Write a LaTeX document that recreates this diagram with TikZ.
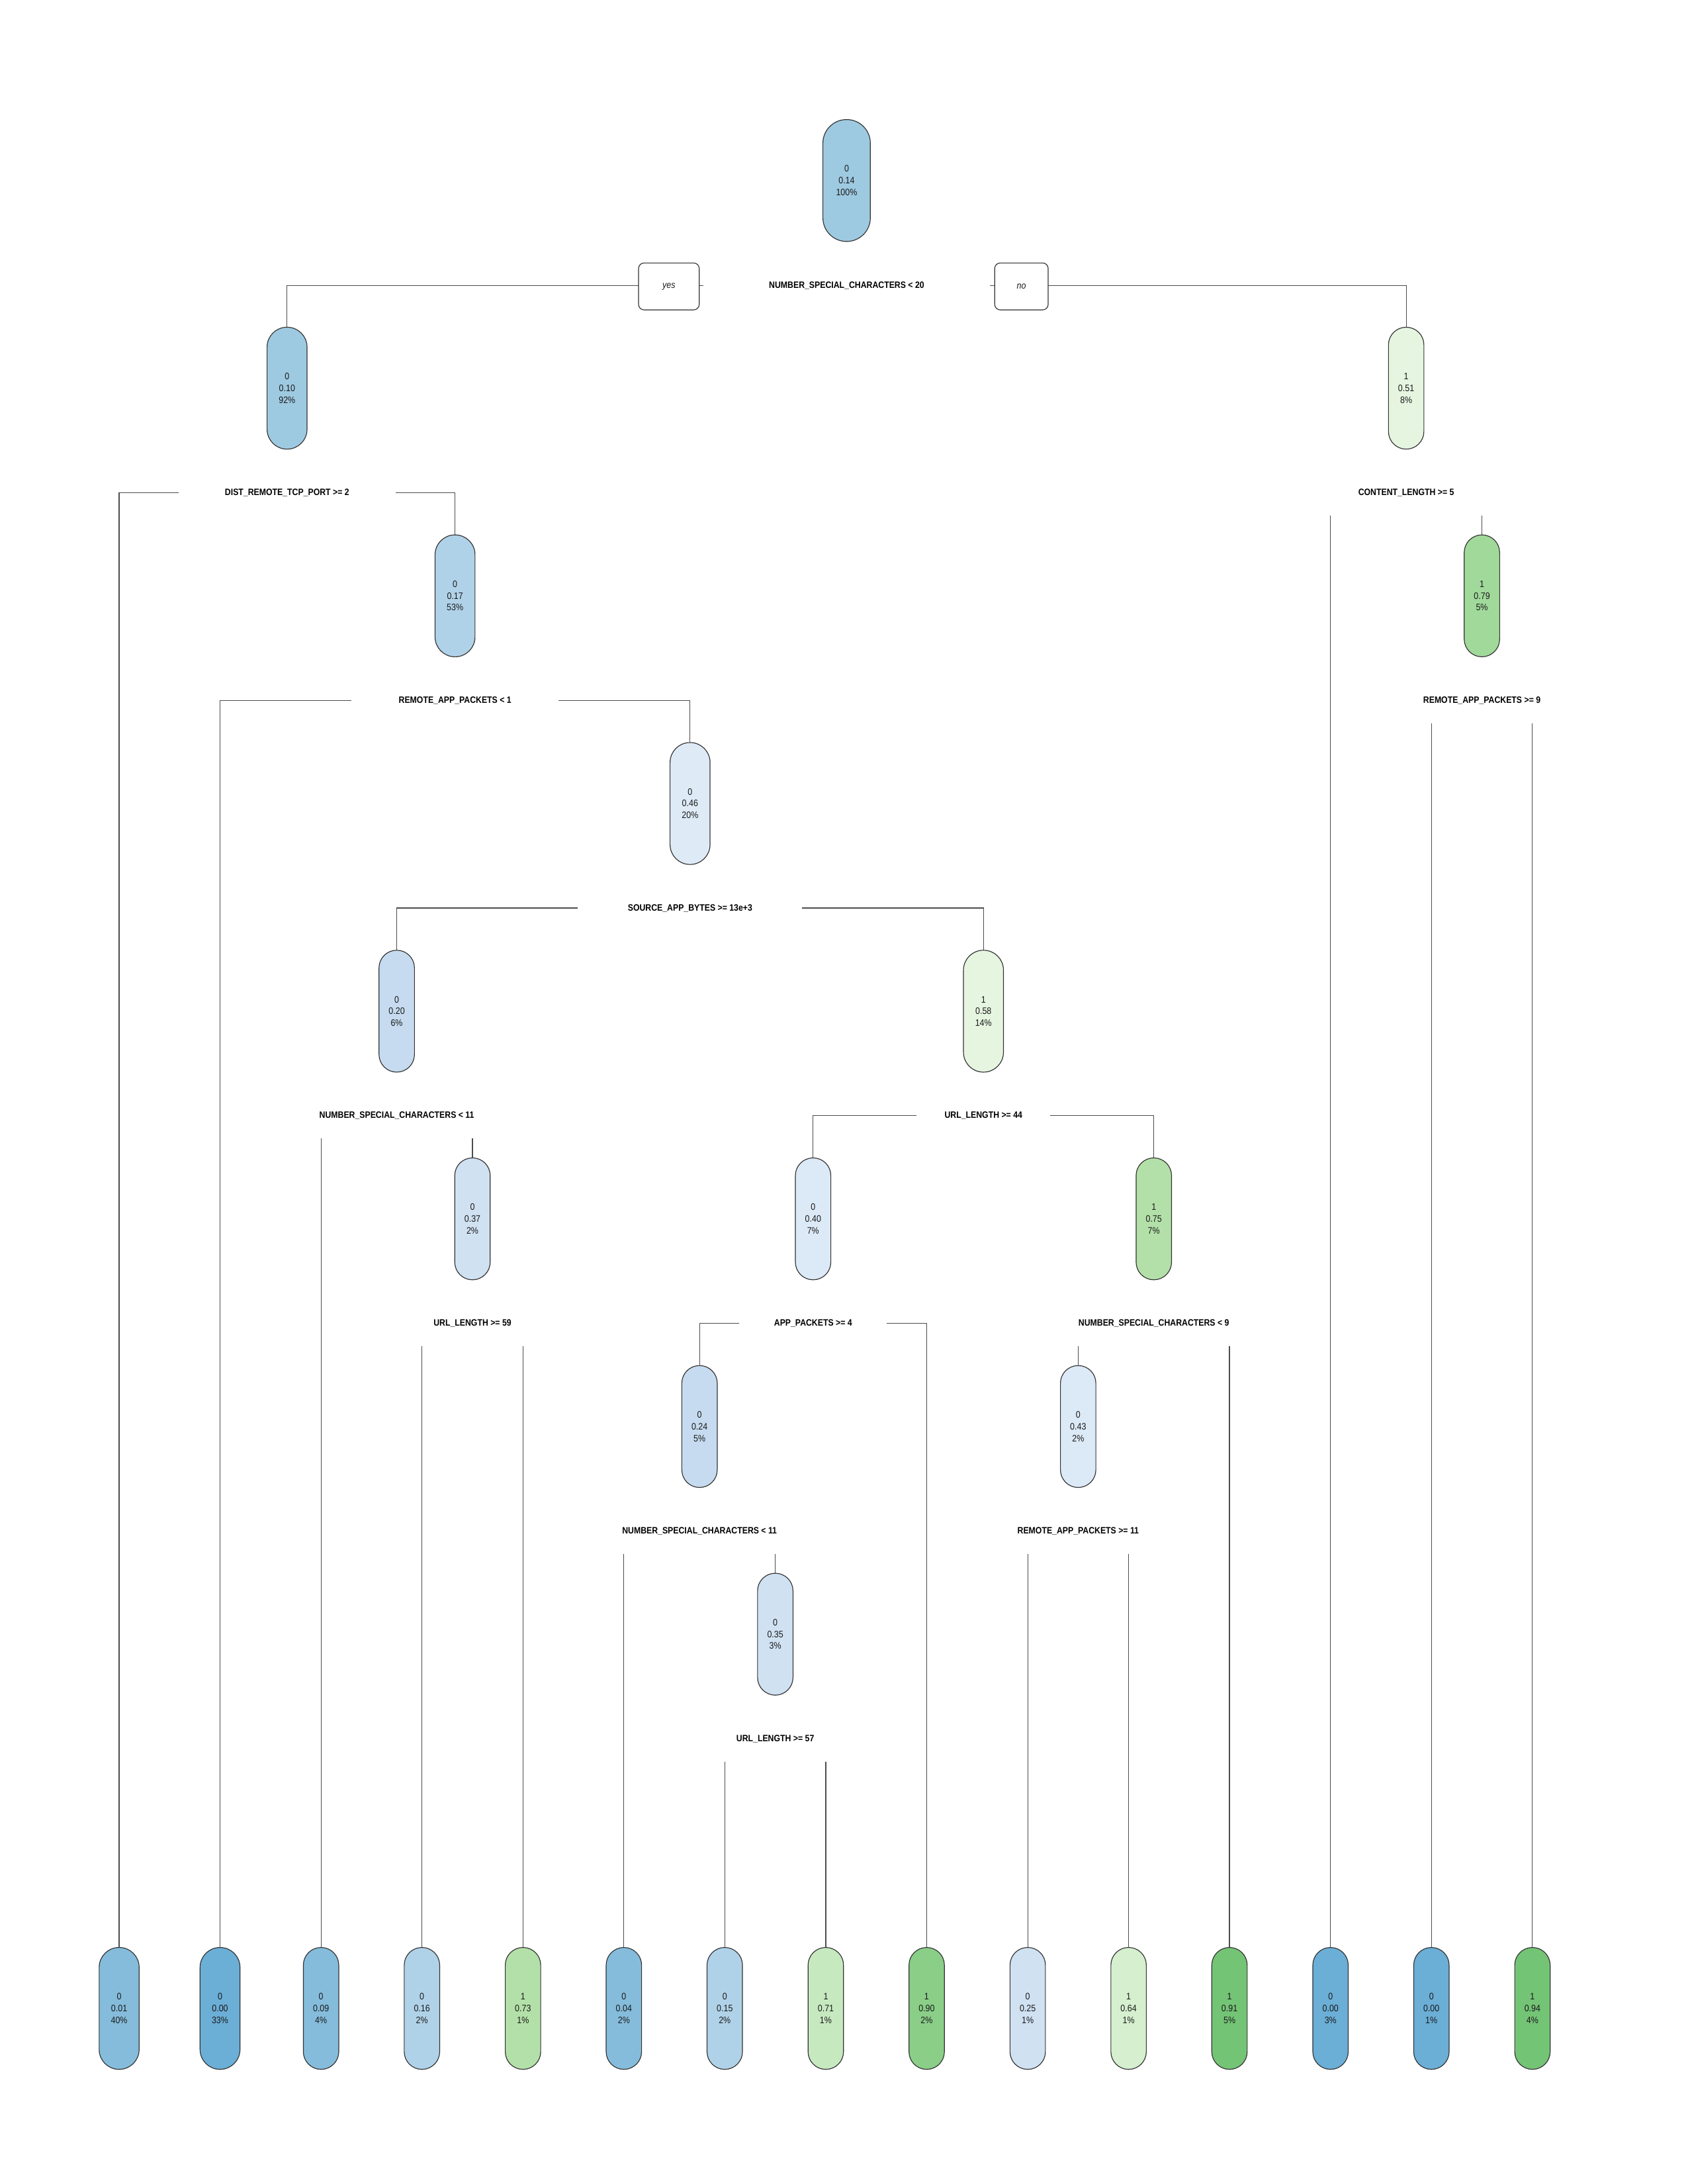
\documentclass[tikz,border=0pt]{standalone}
\usepackage{fontspec}
\setmainfont{Liberation Sans}
\newfontfamily\nfont{Liberation Sans}[FakeStretch=0.88]
\definecolor{cB00}{HTML}{6BAED6}
\definecolor{cB01}{HTML}{85BCDB}
\definecolor{cB10}{HTML}{9ECAE1}
\definecolor{cB15}{HTML}{B0D2E8}
\definecolor{cB20}{HTML}{C6DBEF}
\definecolor{cB30}{HTML}{D0E1F2}
\definecolor{cB40}{HTML}{DCE9F6}
\definecolor{cB46}{HTML}{DEEBF7}
\definecolor{cG51}{HTML}{E5F5E0}
\definecolor{cG64}{HTML}{D5EFCF}
\definecolor{cG71}{HTML}{C7E9C0}
\definecolor{cG73}{HTML}{B3E0A8}
\definecolor{cG79}{HTML}{A1D99B}
\definecolor{cG90}{HTML}{8ACE88}
\definecolor{cG91}{HTML}{74C476}
\begin{document}
\begin{tikzpicture}[x=0.5054pt,y=-0.5054pt,
  tree/.style={draw=black!80, line width=0.28pt, minimum height=44.2pt, inner sep=0pt,
    align=center, text=black!90, font=\nfont\fontsize{3.4}{4.25}\selectfont},
  wA/.style={minimum width=12.85pt, rounded corners=6.4pt},
  wB/.style={minimum width=14.5pt, rounded corners=7.2pt},
  wC/.style={minimum width=17.2pt, rounded corners=8.55pt},
  split/.style={inner sep=0pt, minimum height=16.17pt, text=black,
    font=\nfont\bfseries\fontsize{3.35}{4}\selectfont},
  conn/.style={draw=black!70, line width=0.28pt},
  yn/.style={draw=black!80, fill=white, line width=0.28pt, rounded corners=2pt,
    minimum height=17pt, inner sep=0pt, text=black!90,
    font=\nfont\itshape\fontsize{3.4}{4}\selectfont}]
\fill[white] (0,0) rectangle (1211,1567);
\useasboundingbox (0,0) rectangle (1211,1567);

% internal nodes
\node[tree,wC,fill=cB10] (n0)  at (607.55,129.5) {0\\0.14\\100\%};
\node[tree,wB,fill=cB10] (n10) at (206.0,278.5)  {0\\0.10\\92\%};
\node[tree,wA,fill=cG51] (n51) at (1009.1,278.5) {1\\0.51\\8\%};
\node[tree,wB,fill=cB15] (n17) at (326.55,427.5) {0\\0.17\\53\%};
\node[tree,wA,fill=cG79] (n79) at (1063.45,427.5) {1\\0.79\\5\%};
\node[tree,wB,fill=cB46] (n46) at (495.2,576.5)  {0\\0.46\\20\%};
\node[tree,wA,fill=cB20] (n20) at (284.7,725.5)  {0\\0.20\\6\%};
\node[tree,wB,fill=cG51] (n58) at (705.75,725.5) {1\\0.58\\14\%};
\node[tree,wA,fill=cB30] (n37) at (339.05,874.5) {0\\0.37\\2\%};
\node[tree,wA,fill=cB40] (n40) at (583.5,874.5)  {0\\0.40\\7\%};
\node[tree,wA,fill=cG73] (n75) at (828.0,874.5)  {1\\0.75\\7\%};
\node[tree,wA,fill=cB20] (n24) at (502.0,1023.5) {0\\0.24\\5\%};
\node[tree,wA,fill=cB40] (n43) at (773.7,1023.5) {0\\0.43\\2\%};
\node[tree,wA,fill=cB30] (n35) at (556.35,1172.5) {0\\0.35\\3\%};

% leaves
\node[tree,wB,fill=cB01] (l0)  at (85.5,1441)   {0\\0.01\\40\%};
\node[tree,wB,fill=cB00] (l1)  at (157.9,1441)  {0\\0.00\\33\%};
\node[tree,wA,fill=cB01] (l2)  at (230.4,1441)  {0\\0.09\\4\%};
\node[tree,wA,fill=cB15] (l3)  at (302.8,1441)  {0\\0.16\\2\%};
\node[tree,wA,fill=cG73] (l4)  at (375.3,1441)  {1\\0.73\\1\%};
\node[tree,wA,fill=cB01] (l5)  at (447.7,1441)  {0\\0.04\\2\%};
\node[tree,wA,fill=cB15] (l6)  at (520.1,1441)  {0\\0.15\\2\%};
\node[tree,wA,fill=cG71] (l7)  at (592.6,1441)  {1\\0.71\\1\%};
\node[tree,wA,fill=cG90] (l8)  at (665.0,1441)  {1\\0.90\\2\%};
\node[tree,wA,fill=cB30] (l9)  at (737.5,1441)  {0\\0.25\\1\%};
\node[tree,wA,fill=cG64] (l10) at (809.9,1441)  {1\\0.64\\1\%};
\node[tree,wA,fill=cG91] (l11) at (882.3,1441)  {1\\0.91\\5\%};
\node[tree,wA,fill=cB00] (l12) at (954.8,1441)  {0\\0.00\\3\%};
\node[tree,wA,fill=cB00] (l13) at (1027.2,1441) {0\\0.00\\1\%};
\node[tree,wA,fill=cG91] (l14) at (1099.7,1441) {1\\0.94\\4\%};

% split labels
\node[split,minimum width=103.6pt] (s0)  at (607.55,205) {NUMBER\_SPECIAL\_CHARACTERS < 20};
\node[split,minimum width=78.3pt]  (s10) at (206.0,353.5)  {DIST\_REMOTE\_TCP\_PORT >= 2};
\node[split] (s51) at (1009.1,353.5) {CONTENT\_LENGTH >= 5};
\node[split,minimum width=74.8pt]  (s17) at (326.55,502.5) {REMOTE\_APP\_PACKETS < 1};
\node[split] (s79) at (1063.45,502.5) {REMOTE\_APP\_PACKETS >= 9};
\node[split,minimum width=80.9pt]  (s46) at (495.2,651.5)  {SOURCE\_APP\_BYTES >= 13e+3};
\node[split] (s20) at (284.7,800.5) {NUMBER\_SPECIAL\_CHARACTERS < 11};
\node[split,minimum width=48pt]    (s58) at (705.75,800.5) {URL\_LENGTH >= 44};
\node[split] (s37) at (339.05,949.5) {URL\_LENGTH >= 59};
\node[split,minimum width=53.1pt]  (s40) at (583.5,949.5)  {APP\_PACKETS >= 4};
\node[split] (s75) at (828.0,949.5) {NUMBER\_SPECIAL\_CHARACTERS < 9};
\node[split] (s24) at (502.0,1098.5) {NUMBER\_SPECIAL\_CHARACTERS < 11};
\node[split] (s43) at (773.7,1098.5) {REMOTE\_APP\_PACKETS >= 11};
\node[split] (s35) at (556.35,1247.5) {URL\_LENGTH >= 57};

% connectors
\draw[conn] (s0.west) -| (n10.north);
\draw[conn] (s0.east) -| (n51.north);
\node[yn,minimum width=22pt]   (yes) at (480,205.5) {yes};
\node[yn,minimum width=19.4pt] (no)  at (733,205.5) {no};

\draw[conn] (s10.west) -| (l0.north);
\draw[conn] (s10.east) -| (n17.north);
\draw[conn] (s17.west) -| (l1.north);
\draw[conn] (s17.east) -| (n46.north);
\draw[conn] (s46.west) -| (n20.north);
\draw[conn] (s46.east) -| (n58.north);
\draw[conn] (s20.south -| l2.north) -- (l2.north);
\draw[conn] (s20.south -| n37.north) -- (n37.north);
\draw[conn] (s37.south -| l3.north) -- (l3.north);
\draw[conn] (s37.south -| l4.north) -- (l4.north);
\draw[conn] (s58.west) -| (n40.north);
\draw[conn] (s58.east) -| (n75.north);
\draw[conn] (s40.west) -| (n24.north);
\draw[conn] (s40.east) -| (l8.north);
\draw[conn] (s24.south -| l5.north) -- (l5.north);
\draw[conn] (s24.south -| n35.north) -- (n35.north);
\draw[conn] (s35.south -| l6.north) -- (l6.north);
\draw[conn] (s35.south -| l7.north) -- (l7.north);
\draw[conn] (s75.south -| n43.north) -- (n43.north);
\draw[conn] (s75.south -| l11.north) -- (l11.north);
\draw[conn] (s43.south -| l9.north) -- (l9.north);
\draw[conn] (s43.south -| l10.north) -- (l10.north);
\draw[conn] (s51.south -| l12.north) -- (l12.north);
\draw[conn] (s51.south -| n79.north) -- (n79.north);
\draw[conn] (s79.south -| l13.north) -- (l13.north);
\draw[conn] (s79.south -| l14.north) -- (l14.north);
\end{tikzpicture}
\end{document}
